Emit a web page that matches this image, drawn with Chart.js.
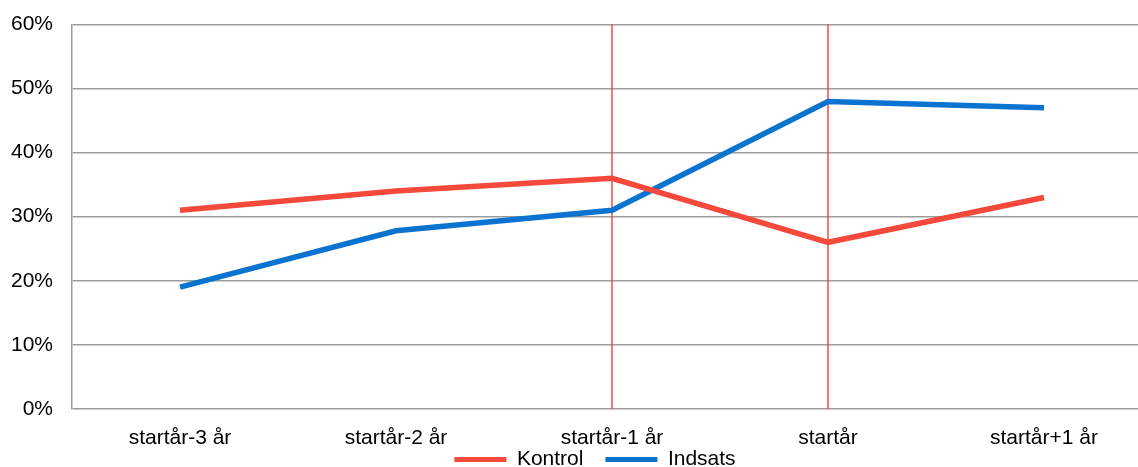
<!DOCTYPE html>
<html>
<head>
<meta charset="utf-8">
<script src="https://cdn.jsdelivr.net/npm/chart.js@4"></script>
<style>
  html, body { margin: 0; padding: 0; overflow: hidden; background: #fff; }
  #wrap { width: 1152px; height: 528px; position: relative; margin-top: -7px; }
</style>
</head>
<body>
<div id="wrap"><canvas id="trendChart"></canvas></div>
<script>
// Chart data
var categories = ["startår-3 år", "startår-2 år", "startår-1 år", "startår", "startår+1 år"];
var kontrolValues = [31, 34, 36, 26, 33];
var indsatsValues = [19, 27.8, 31, 48, 47];
var markerCategories = ["startår-1 år", "startår"];
var yTicks = [0, 10, 20, 30, 40, 50, 60];

var red = "#f5493c";
var blue = "#0a73d0";
var gridGray = "#9c9c9c";

// red vertical marker lines at the chosen categories
var markerLines = {
    id: "markerLines",
    beforeDatasetsDraw: function (chart) {
        var ctx = chart.ctx;
        var area = chart.chartArea;
        var x = chart.scales.x;
        ctx.save();
        ctx.strokeStyle = red;
        ctx.lineWidth = 1.5;
        markerCategories.forEach(function (cat) {
            var px = x.getPixelForValue(categories.indexOf(cat));
            ctx.beginPath();
            ctx.moveTo(px, area.top);
            ctx.lineTo(px, area.bottom);
            ctx.stroke();
        });
        ctx.restore();
    },
};

// nudge the legend: centred like the original and pulled up under the labels
var legendPlacement = {
    id: "legendPlacement",
    afterLayout: function (chart) {
        var lg = chart.legend;
        var h = lg.height;
        lg.left = 38;
        lg.top = 434;
        lg.bottom = 434 + h;
    },
};

Chart.defaults.font.family = "'Liberation Sans', Arial, sans-serif";
Chart.defaults.font.size = 21;
Chart.defaults.color = "#000";

var ctx = document.getElementById("trendChart").getContext("2d");

new Chart(ctx, {
    type: "line",
    data: {
        labels: categories,
        datasets: [
            {
                label: "Kontrol",
                data: kontrolValues,
                borderColor: red,
                backgroundColor: red,
                borderWidth: 5.5,
                pointRadius: 0,
                tension: 0,
            },
            {
                label: "Indsats",
                data: indsatsValues,
                borderColor: blue,
                backgroundColor: blue,
                borderWidth: 5.5,
                pointRadius: 0,
                tension: 0,
            },
        ],
    },
    options: {
        responsive: true,
        maintainAspectRatio: false,
        animation: false,
        layout: {
            padding: { left: 0, right: 0, top: 5, bottom: 0 },
        },
        scales: {
            x: {
                offset: true,
                grid: { display: false, drawTicks: false },
                border: { display: false },
                ticks: { padding: 17, maxRotation: 0, autoSkip: false },
            },
            y: {
                min: 0,
                max: 60,
                afterBuildTicks: function (scale) {
                    scale.ticks = yTicks.map(function (v) { return { value: v }; });
                },
                grid: { color: gridGray, lineWidth: 1.5, drawTicks: false },
                border: { color: gridGray, width: 1.5 },
                ticks: {
                    padding: 19,
                    callback: function (value) {
                        return value + "%";
                    },
                },
                afterFit: function (scale) {
                    scale.width = 72;
                },
            },
        },
        plugins: {
            legend: {
                position: "bottom",
                labels: {
                    boxWidth: 52,
                    boxHeight: 5,
                    padding: 22,
                    font: { size: 21 },
                    generateLabels: function (chart) {
                        return chart.data.datasets.map(function (ds, i) {
                            return {
                                text: ds.label,
                                fillStyle: ds.borderColor,
                                strokeStyle: ds.borderColor,
                                lineWidth: 0,
                                datasetIndex: i,
                                hidden: false,
                            };
                        });
                    },
                },
            },
            tooltip: { enabled: false },
        },
    },
    plugins: [markerLines, legendPlacement],
});
</script>
</body>
</html>
